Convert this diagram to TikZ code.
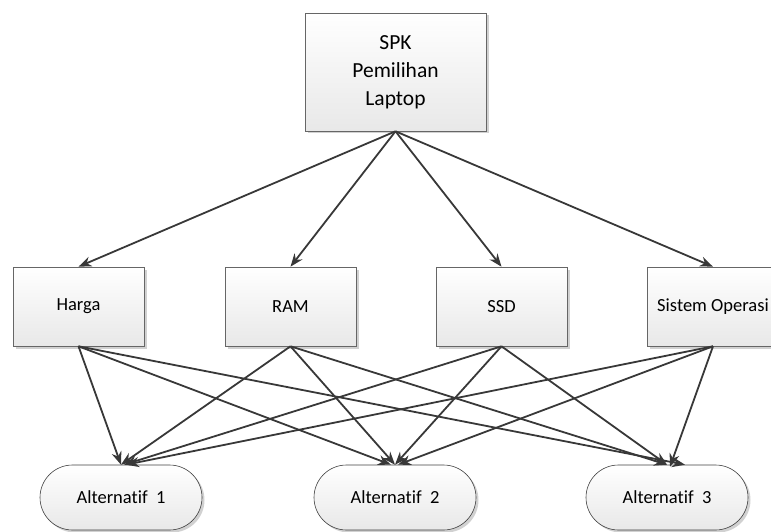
\documentclass[tikz,border=0pt]{standalone}
\usepackage{fontspec}
\setmainfont{Carlito}[Ligatures=NoCommon]
\usetikzlibrary{arrows.meta,shapes.misc,shadows}

\begin{document}
\begin{tikzpicture}[x=1pt, y=-1pt, semithick]
        \tikzset{
           goal/.style={
                        rectangle,
                        draw=black!60,
                        top color=white,
                        bottom color=black!9,
                        drop shadow={shadow xshift=2.5pt, shadow yshift=-2.5pt, fill=black!18, opacity=1},
                        minimum width=181pt,
                        minimum height=118pt,
                        inner sep=0pt,
                        align=center,
                        font=\fontsize{21.5}{28}\selectfont,
                        text=black
                       },
           criteria/.style={
                        rectangle,
                        draw=black!60,
                        top color=white,
                        bottom color=black!9,
                        drop shadow={shadow xshift=2.5pt, shadow yshift=-2.5pt, fill=black!18, opacity=1},
                        minimum width=131pt,
                        minimum height=79pt,
                        inner sep=0pt,
                        font=\fontsize{18.5}{22}\selectfont,
                        text=black
                       },
           alternative/.style={
                        rounded rectangle,
                        draw=black!75,
                        top color=white,
                        bottom color=black!9,
                        drop shadow={shadow xshift=2.5pt, shadow yshift=-2.5pt, fill=black!18, opacity=1},
                        minimum width=162pt,
                        minimum height=65pt,
                        inner sep=0pt,
                        font=\fontsize{18.5}{22}\selectfont,
                        text=black
                       },
           every edge/.style={
                        draw=black!78,
                        line width=1.8pt,
                        -{Stealth[length=13pt,width=10pt]}
                       },
                 };
        \useasboundingbox (0,0) rectangle (771,532);
    %--------------------
        \node[goal]        (spk)      at (395.5,72)   {SPK\\Pemilihan\\Laptop};

        \node[criteria]    (harga)    at (78.5,306.5) {Harga};
        \node[criteria]    (ram)      at (290.5,306.5) {RAM};
        \node[criteria]    (ssd)      at (501.5,306.5) {SSD};
        \node[criteria]    (sistemOp) at (713,306.5)  {Sistem Operasi};

        \node[alternative] (alt1)     at (121,497.5)  {Alternatif\ \ 1};
        \node[alternative] (alt2)     at (395,497.5)  {Alternatif\ \ 2};
        \node[alternative] (alt3)     at (667,497.5)  {Alternatif\ \ 3};
    %--------------------
        \path (spk.south)      edge (harga.north)
              (spk.south)      edge (ram.north)
              (spk.south)      edge (ssd.north)
              (spk.south)      edge (sistemOp.north)

              (harga.south)    edge (alt1.north)
              (harga.south)    edge ([xshift=-4pt]alt2.north)
              (harga.south)    edge ([xshift=18pt]alt3.north)

              (ram.south)      edge (alt1.north)
              (ram.south)      edge (alt2.north)
              (ram.south)      edge (alt3.north)

              (ssd.south)      edge ([xshift=3pt]alt1.north)
              (ssd.south)      edge (alt2.north)
              (ssd.south)      edge (alt3.north)

              (sistemOp.south) edge ([xshift=5pt]alt1.north)
              (sistemOp.south) edge ([xshift=3pt]alt2.north)
              (sistemOp.south) edge ([xshift=3pt,yshift=-2pt]alt3.north);
    \end{tikzpicture}
\end{document}
